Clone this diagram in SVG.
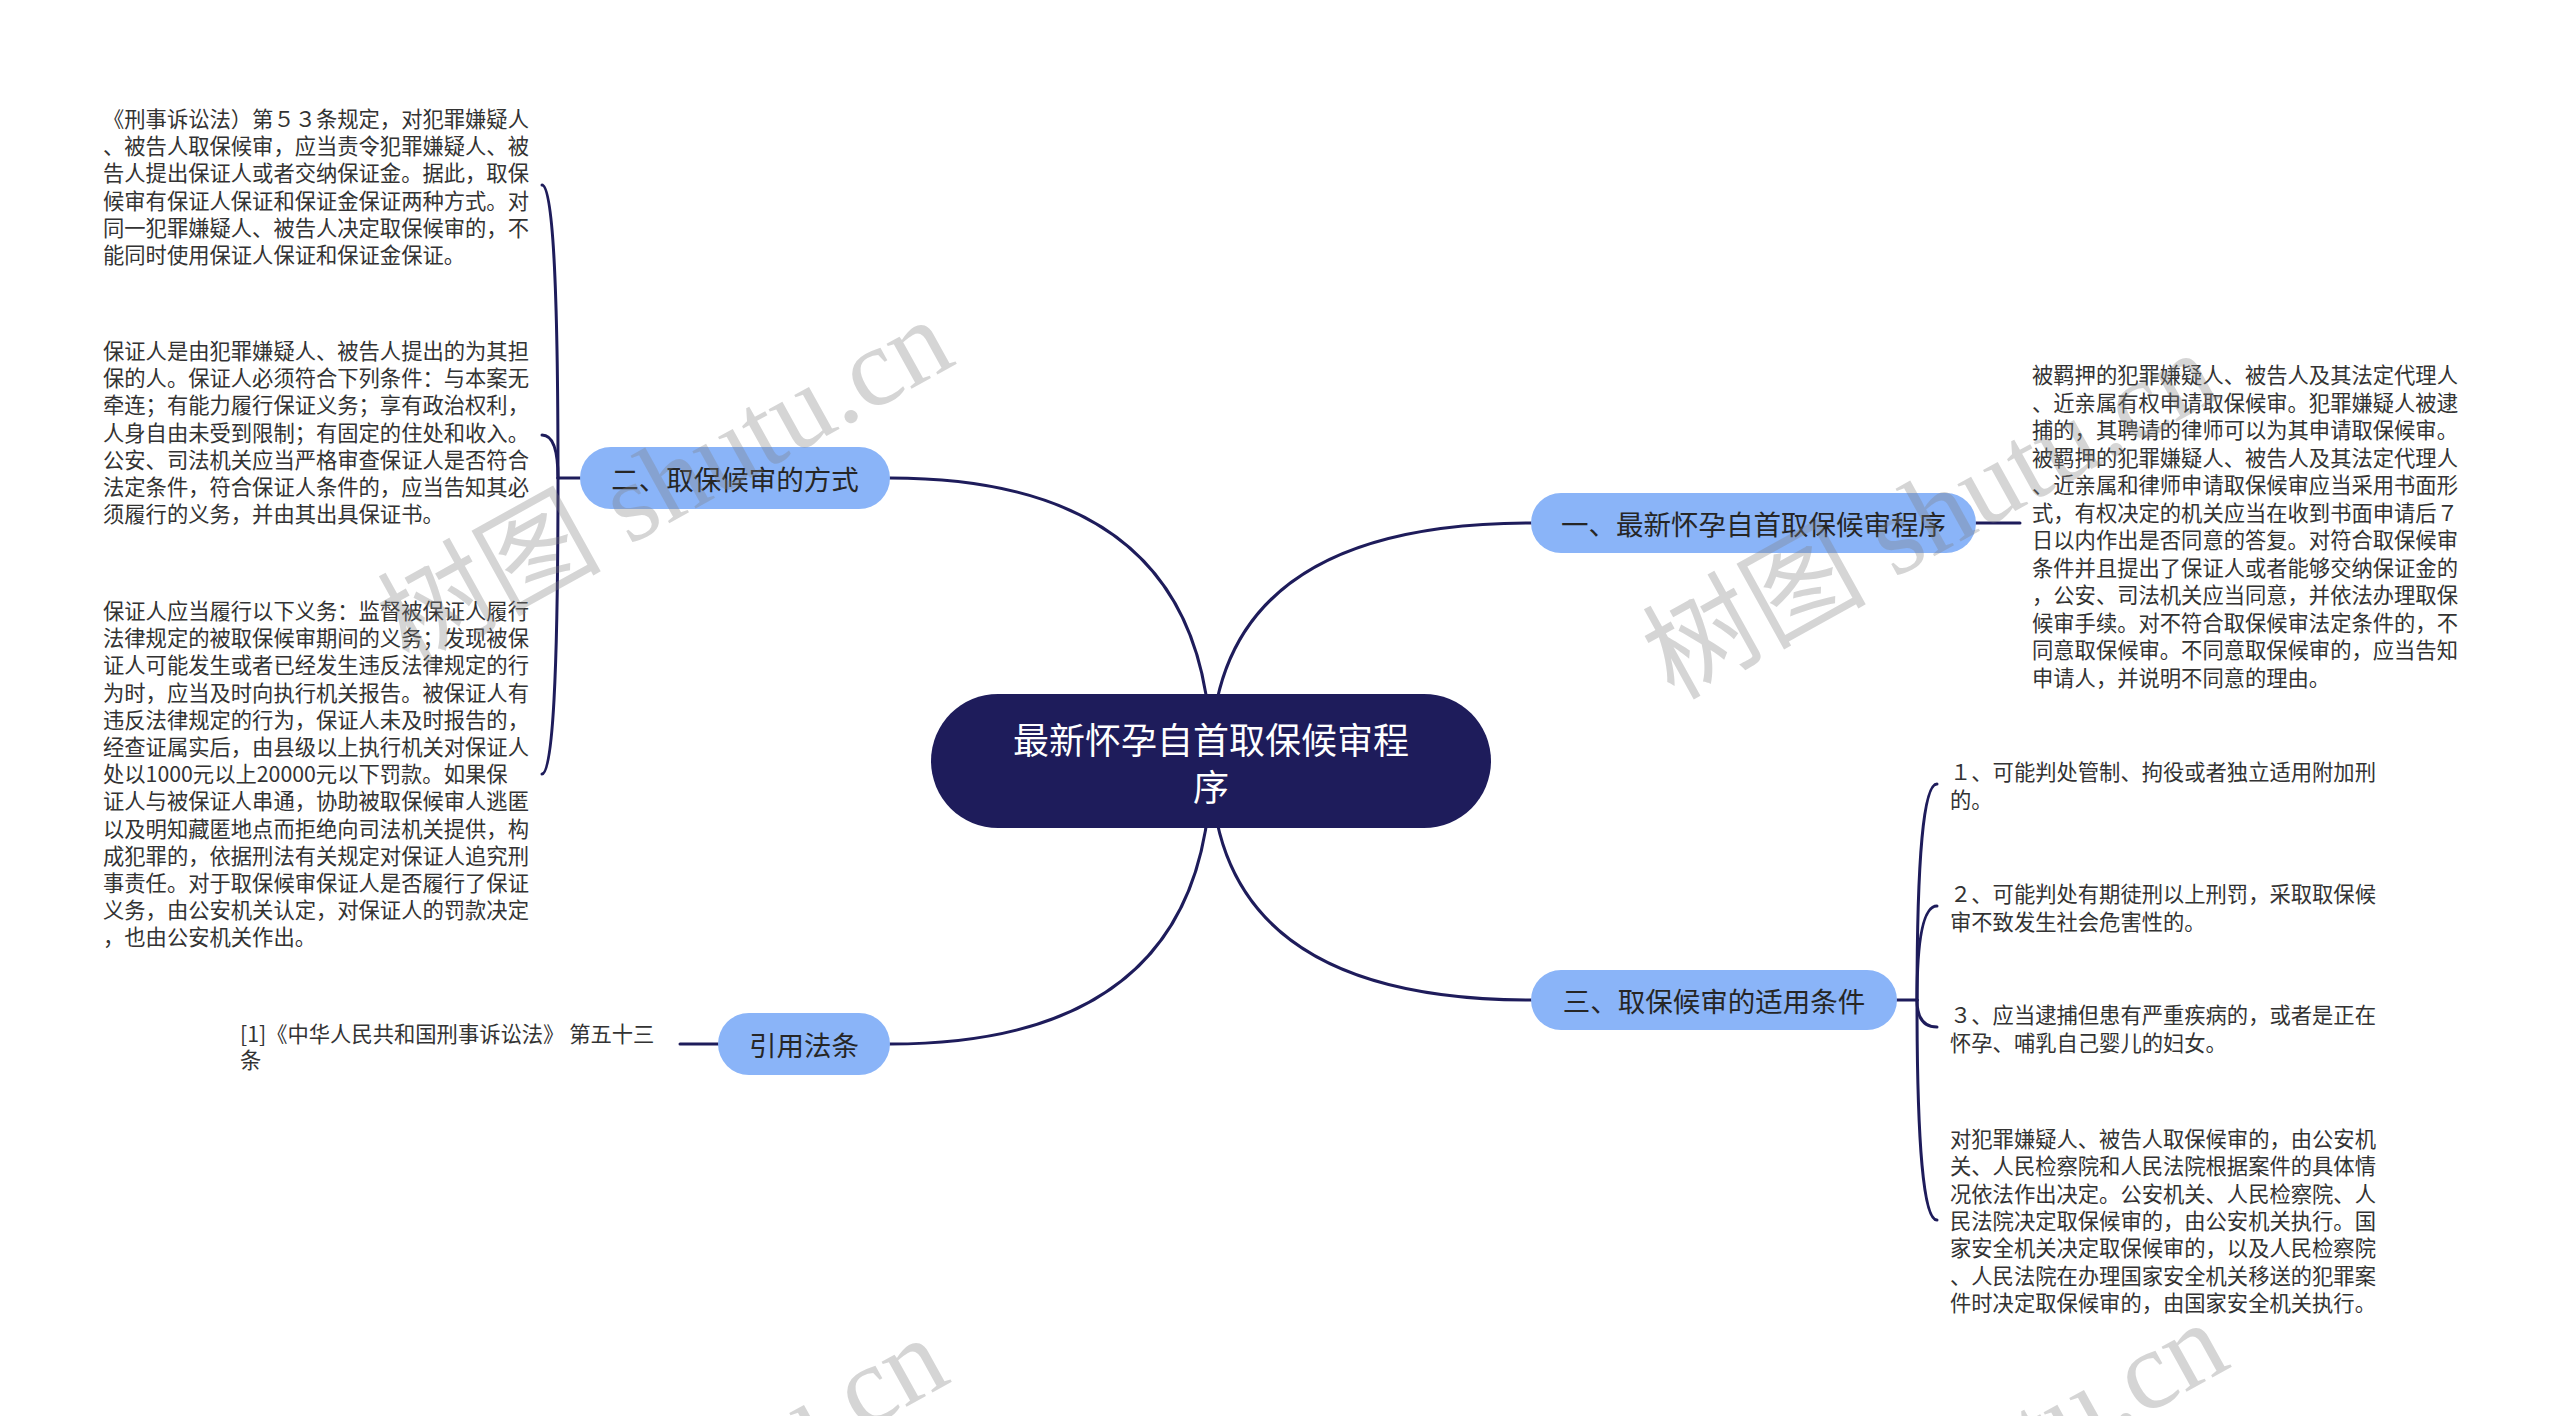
<svg xmlns="http://www.w3.org/2000/svg" width="2560" height="1416" viewBox="0 0 2560 1416">
<style>
.bg{fill:#ffffff}
.conn{fill:none;stroke:#1e1c5b;stroke-width:3;stroke-linecap:round}
.root{fill:#1e1c5b}
.l1{fill:#8ab4f8}
.rt{font-family:"Noto Sans CJK SC","Noto Sans",sans-serif;font-size:36px;fill:#ffffff;text-anchor:middle;dominant-baseline:central}
.t1{font-family:"Noto Sans CJK SC","Noto Sans",sans-serif;font-size:27.5px;fill:#262626;text-anchor:middle;dominant-baseline:central}
.lf{font-family:"Noto Sans CJK SC","Noto Sans",sans-serif;font-size:21.3px;fill:#333333;dominant-baseline:central}
.wm{font-family:"Liberation Serif","Noto Sans CJK SC",serif;font-size:112px;fill:#808080;fill-opacity:0.33;text-anchor:middle;dominant-baseline:central}
</style>
<rect class="bg" x="0" y="0" width="2560" height="1416"/>
<g id="connectors">
<path class="conn" d="M1211,761 Q1211,478 890,478"/>
<path class="conn" d="M1211,761 Q1211,523 1531,523"/>
<path class="conn" d="M1211,761 Q1211,1000 1531,1000"/>
<path class="conn" d="M1211,761 Q1211,1044 890,1044"/>
<path class="conn" d="M580,478 L558,478"/>
<path class="conn" d="M558,478 Q558,185 542,185"/>
<path class="conn" d="M558,478 Q558,435 542,435"/>
<path class="conn" d="M558,478 Q558,774 542,774"/>
<path class="conn" d="M1976,523 L2020,523"/>
<path class="conn" d="M1897,1000 L1917,1000"/>
<path class="conn" d="M1917,1000 Q1917,784 1937,784"/>
<path class="conn" d="M1917,1000 Q1917,906 1937,906"/>
<path class="conn" d="M1917,1000 Q1917,1027 1937,1027"/>
<path class="conn" d="M1917,1000 Q1917,1220 1937,1220"/>
<path class="conn" d="M718,1044 L680,1044"/>
</g>
<g id="root">
<rect class="root" x="931" y="694" width="560" height="134" rx="67"/>
<text class="rt" x="1211" y="738">最新怀孕自首取保候审程</text>
<text class="rt" x="1211" y="785">序</text>
</g>
<g id="n1">
<rect class="l1" x="1531" y="493" width="445" height="60" rx="30"/>
<text class="t1" x="1753.5" y="523">一、最新怀孕自首取保候审程序</text>
</g>
<g id="n2">
<rect class="l1" x="580" y="447" width="310" height="62" rx="31"/>
<text class="t1" x="735" y="478">二、取保候审的方式</text>
</g>
<g id="n3">
<rect class="l1" x="1531" y="970" width="366" height="60" rx="30"/>
<text class="t1" x="1714" y="1000">三、取保候审的适用条件</text>
</g>
<g id="n4">
<rect class="l1" x="718" y="1013" width="172" height="62" rx="31"/>
<text class="t1" x="804" y="1044">引用法条</text>
</g>
<g id="leaf2a">
<text class="lf" x="103"><tspan x="103" y="117">《刑事诉讼法）第５３条规定，对犯罪嫌疑人</tspan><tspan x="103" y="144.2">、被告人取保候审，应当责令犯罪嫌疑人、被</tspan><tspan x="103" y="171.4">告人提出保证人或者交纳保证金。据此，取保</tspan><tspan x="103" y="198.6">候审有保证人保证和保证金保证两种方式。对</tspan><tspan x="103" y="225.8">同一犯罪嫌疑人、被告人决定取保候审的，不</tspan><tspan x="103" y="253">能同时使用保证人保证和保证金保证。</tspan></text>
</g>
<g id="leaf2b">
<text class="lf" x="103"><tspan x="103" y="349">保证人是由犯罪嫌疑人、被告人提出的为其担</tspan><tspan x="103" y="376.2">保的人。保证人必须符合下列条件：与本案无</tspan><tspan x="103" y="403.4">牵连；有能力履行保证义务；享有政治权利，</tspan><tspan x="103" y="430.6">人身自由未受到限制；有固定的住处和收入。</tspan><tspan x="103" y="457.8">公安、司法机关应当严格审查保证人是否符合</tspan><tspan x="103" y="485">法定条件，符合保证人条件的，应当告知其必</tspan><tspan x="103" y="512.2">须履行的义务，并由其出具保证书。</tspan></text>
</g>
<g id="leaf2c">
<text class="lf" x="103"><tspan x="103" y="609">保证人应当履行以下义务：监督被保证人履行</tspan><tspan x="103" y="636.2">法律规定的被取保候审期间的义务；发现被保</tspan><tspan x="103" y="663.4">证人可能发生或者已经发生违反法律规定的行</tspan><tspan x="103" y="690.6">为时，应当及时向执行机关报告。被保证人有</tspan><tspan x="103" y="717.8">违反法律规定的行为，保证人未及时报告的，</tspan><tspan x="103" y="745">经查证属实后，由县级以上执行机关对保证人</tspan><tspan x="103" y="772.2">处以1000元以上20000元以下罚款。如果保</tspan><tspan x="103" y="799.4">证人与被保证人串通，协助被取保候审人逃匿</tspan><tspan x="103" y="826.6">以及明知藏匿地点而拒绝向司法机关提供，构</tspan><tspan x="103" y="853.8">成犯罪的，依据刑法有关规定对保证人追究刑</tspan><tspan x="103" y="881">事责任。对于取保候审保证人是否履行了保证</tspan><tspan x="103" y="908.2">义务，由公安机关认定，对保证人的罚款决定</tspan><tspan x="103" y="935.4">，也由公安机关作出。</tspan></text>
</g>
<g id="leaf1">
<text class="lf" x="2032"><tspan x="2032" y="373">被羁押的犯罪嫌疑人、被告人及其法定代理人</tspan><tspan x="2032" y="400.5">、近亲属有权申请取保候审。犯罪嫌疑人被逮</tspan><tspan x="2032" y="428">捕的，其聘请的律师可以为其申请取保候审。</tspan><tspan x="2032" y="455.5">被羁押的犯罪嫌疑人、被告人及其法定代理人</tspan><tspan x="2032" y="483">、近亲属和律师申请取保候审应当采用书面形</tspan><tspan x="2032" y="510.5">式，有权决定的机关应当在收到书面申请后７</tspan><tspan x="2032" y="538">日以内作出是否同意的答复。对符合取保候审</tspan><tspan x="2032" y="565.5">条件并且提出了保证人或者能够交纳保证金的</tspan><tspan x="2032" y="593">，公安、司法机关应当同意，并依法办理取保</tspan><tspan x="2032" y="620.5">候审手续。对不符合取保候审法定条件的，不</tspan><tspan x="2032" y="648">同意取保候审。不同意取保候审的，应当告知</tspan><tspan x="2032" y="675.5">申请人，并说明不同意的理由。</tspan></text>
</g>
<g id="leaf3a">
<text class="lf" x="1950"><tspan x="1950" y="770">１、可能判处管制、拘役或者独立适用附加刑</tspan><tspan x="1950" y="797.5">的。</tspan></text>
</g>
<g id="leaf3b">
<text class="lf" x="1950"><tspan x="1950" y="892">２、可能判处有期徒刑以上刑罚，采取取保候</tspan><tspan x="1950" y="919.5">审不致发生社会危害性的。</tspan></text>
</g>
<g id="leaf3c">
<text class="lf" x="1950"><tspan x="1950" y="1013">３、应当逮捕但患有严重疾病的，或者是正在</tspan><tspan x="1950" y="1040.5">怀孕、哺乳自己婴儿的妇女。</tspan></text>
</g>
<g id="leaf3d">
<text class="lf" x="1950"><tspan x="1950" y="1137">对犯罪嫌疑人、被告人取保候审的，由公安机</tspan><tspan x="1950" y="1164.3">关、人民检察院和人民法院根据案件的具体情</tspan><tspan x="1950" y="1191.6">况依法作出决定。公安机关、人民检察院、人</tspan><tspan x="1950" y="1218.9">民法院决定取保候审的，由公安机关执行。国</tspan><tspan x="1950" y="1246.2">家安全机关决定取保候审的，以及人民检察院</tspan><tspan x="1950" y="1273.5">、人民法院在办理国家安全机关移送的犯罪案</tspan><tspan x="1950" y="1300.8">件时决定取保候审的，由国家安全机关执行。</tspan></text>
</g>
<g id="leaf4">
<text class="lf" x="240"><tspan x="240" y="1032">[1]《中华人民共和国刑事诉讼法》 第五十三</tspan><tspan x="240" y="1058">条</tspan></text>
</g>
<g id="watermark">
<text class="wm" transform="translate(665,482) rotate(-29)">树图 shutu.cn</text>
<text class="wm" transform="translate(1930,515) rotate(-29)">树图 shutu.cn</text>
<text class="wm" transform="translate(660,1500) rotate(-29)">树图 shutu.cn</text>
<text class="wm" transform="translate(1940,1485) rotate(-29)">树图 shutu.cn</text>
</g>
</svg>
